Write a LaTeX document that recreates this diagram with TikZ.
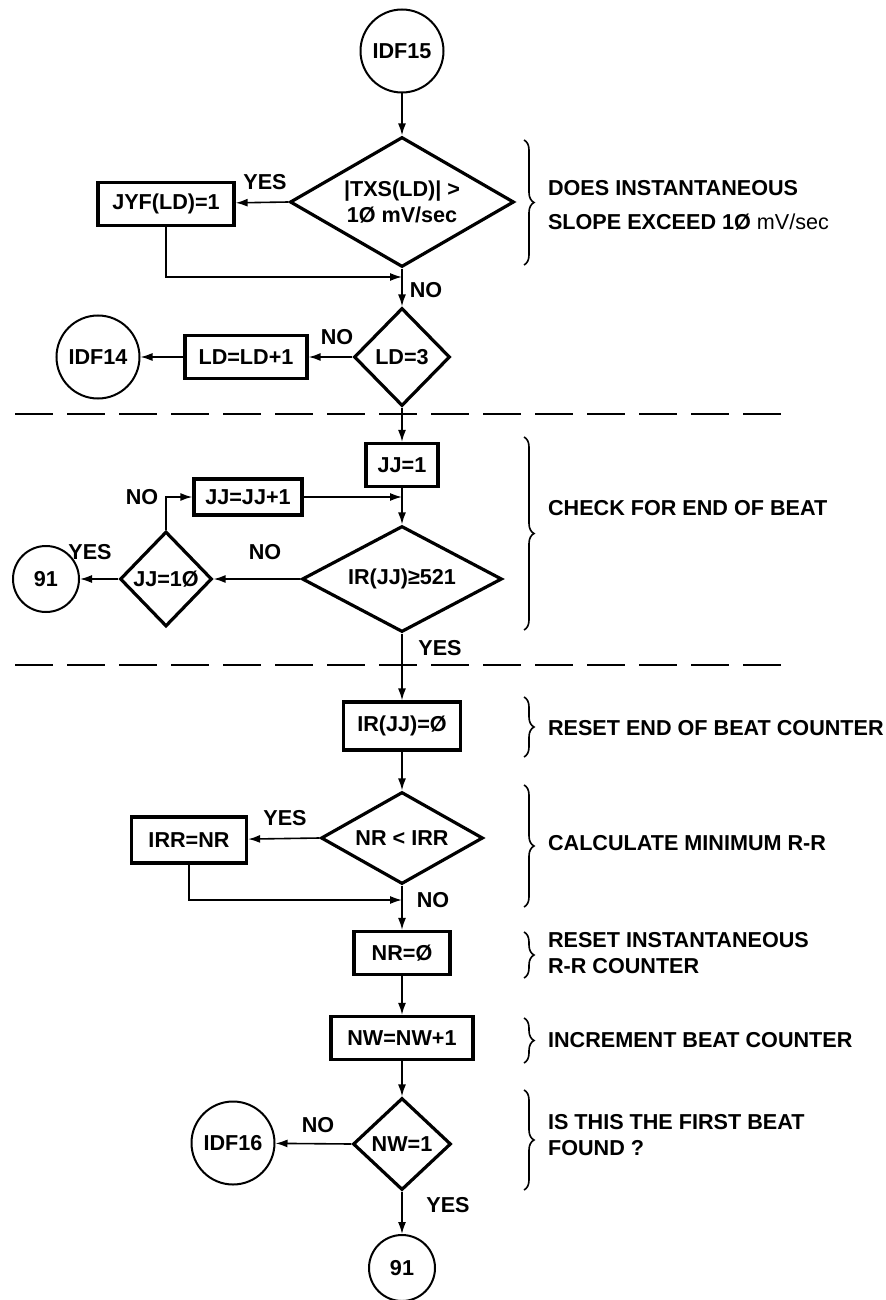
\documentclass[tikz,border=0pt]{standalone}
\usepackage{fontspec}
\setmainfont{Liberation Sans}
\usetikzlibrary{positioning,shapes.geometric,arrows.meta,decorations.pathreplacing}
\tikzset{
  box/.style={draw,line width=1.6pt,minimum height=21.5pt,inner sep=2pt},
  test/.style={draw,diamond,line width=1.6pt,inner sep=0pt},
  conn/.style={draw,circle,line width=1pt,inner sep=0pt},
  flow/.style={line width=.8pt,-{Latex[length=6pt,width=4pt]}},
  cut/.style={line width=1.2pt,dash pattern=on 19pt off 7pt},
  brc/.style={decorate,decoration={brace,amplitude=5pt},line width=.8pt},
  note/.style={anchor=west,align=left}
}
\begin{document}
\begin{tikzpicture}[x=.5pt,y=-.5pt,every node/.style={font=\bfseries\fontsize{10.8}{13}\selectfont}]
\useasboundingbox (0,0) rectangle (885,1300);
\node[conn,minimum size=41.5pt] (idfA) at (402,51) {IDF15};
\node[test,aspect=1.7,minimum width=112pt,minimum height=65pt,align=center] (slope) at (402,202) {|TXS(LD)| >\\1Ø mV/sec};
\node[box,minimum width=68pt] (jyf) at (166,204) {JYF(LD)=1};
\coordinate (m1) at (402,277);
\node[test,minimum width=48pt,minimum height=49pt] (ldtest) at (402,357) {LD=3};
\node[box,minimum width=61pt] (ldinc) at (246,357) {LD=LD+1};
\node[conn,minimum size=41.5pt] (idfB) at (98,357) {IDF14};
\node[box,minimum width=36pt] (jjone) at (402,465) {JJ=1};
\node[box,minimum width=54pt,minimum height=18pt] (jjinc) at (248,497) {JJ=JJ+1};
\coordinate (m2) at (402,497);
\node[test,aspect=2,minimum width=100pt,minimum height=53pt] (irtest) at (402,579) {IR(JJ)≥521};
\node[test,minimum width=46pt,minimum height=47.5pt] (jjten) at (166,579) {JJ=1Ø};
\node[conn,minimum size=33pt] (endA) at (46,579) {91};
\node[box,minimum width=58.5pt,minimum height=24pt] (irreset) at (402,726) {IR(JJ)=Ø};
\node[test,aspect=1.75,minimum width=81pt,minimum height=46pt] (nrtest) at (402,838) {NR < IRR};
\node[box,minimum width=57.5pt,minimum height=23pt] (irrset) at (189,840) {IRR=NR};
\coordinate (m3) at (402,900);
\node[box,minimum width=48pt] (nrreset) at (402,953) {NR=Ø};
\node[box,minimum width=71pt] (nwinc) at (402,1038) {NW=NW+1};
\node[test,minimum width=49pt,minimum height=46pt] (nwtest) at (402,1144) {NW=1};
\node[conn,minimum size=41.5pt] (idfC) at (233,1143) {IDF16};
\node[conn,minimum size=33pt] (endB) at (402,1268) {91};

\draw[flow] (idfA) -- (slope);
\draw[flow] (slope.west) -- (jyf);
\draw[flow] (jyf.south) |- (m1);
\draw[flow] (slope.south) -- (ldtest.north);
\draw[flow] (ldtest.west) -- (ldinc);
\draw[flow] (ldinc) -- (idfB);
\draw[flow] (ldtest.south) -- (jjone);
\draw[flow] (jjone) -- (irtest.north);
\draw[flow] (jjinc) -- (m2);
\draw[flow] (irtest.west) -- (jjten.east);
\draw[flow] (jjten.north) |- (jjinc);
\draw[flow] (jjten.west) -- (endA);
\draw[flow] (irtest.south) -- (irreset);
\draw[flow] (irreset) -- (nrtest.north);
\draw[flow] (nrtest.west) -- (irrset);
\draw[flow] (irrset.south) |- (m3);
\draw[flow] (nrtest.south) -- (nrreset);
\draw[flow] (nrreset) -- (nwinc);
\draw[flow] (nwinc) -- (nwtest.north);
\draw[flow] (nwtest.west) -- (idfC);
\draw[flow] (nwtest.south) -- (endB);

\node (ly1) at (265,182) {YES};
\node (ln1) at (426,290) {NO};
\node (ln2) at (337,337) {NO};
\node (ln3) at (142,497) {NO};
\node (ly2) at (90,552) {YES};
\node (ln4) at (265,552) {NO};
\node (ly3) at (440,648) {YES};
\node (ly4) at (285,818) {YES};
\node (ln5) at (433,900) {NO};
\node (ln6) at (318,1125) {NO};
\node (ly5) at (448,1205) {YES};

\draw[cut] (15,414) -- (792,414);
\draw[cut] (15,665) -- (792,665);

\draw[brc] (524,140) -- (524,265);
\node[note] (t1) at (541,205) {DOES INSTANTANEOUS\\[4pt]SLOPE EXCEED 1Ø {\mdseries mV/sec}};
\draw[brc] (524,437) -- (524,630);
\node[note] (t2) at (541,508) {CHECK FOR END OF BEAT};
\draw[brc] (524,697) -- (524,757);
\node[note] (t3) at (541,728) {RESET END OF BEAT COUNTER};
\draw[brc] (524,785) -- (524,907);
\node[note] (t4) at (541,843) {CALCULATE MINIMUM R-R};
\draw[brc] (524,932) -- (524,978);
\node[note] (t5) at (541,953) {RESET INSTANTANEOUS\\R-R COUNTER};
\draw[brc] (524,1018) -- (524,1063);
\node[note] (t6) at (541,1040) {INCREMENT BEAT COUNTER};
\draw[brc] (524,1090) -- (524,1190);
\node[note] (t7) at (541,1135) {IS THIS THE FIRST BEAT\\FOUND ?};
\end{tikzpicture}
\end{document}
